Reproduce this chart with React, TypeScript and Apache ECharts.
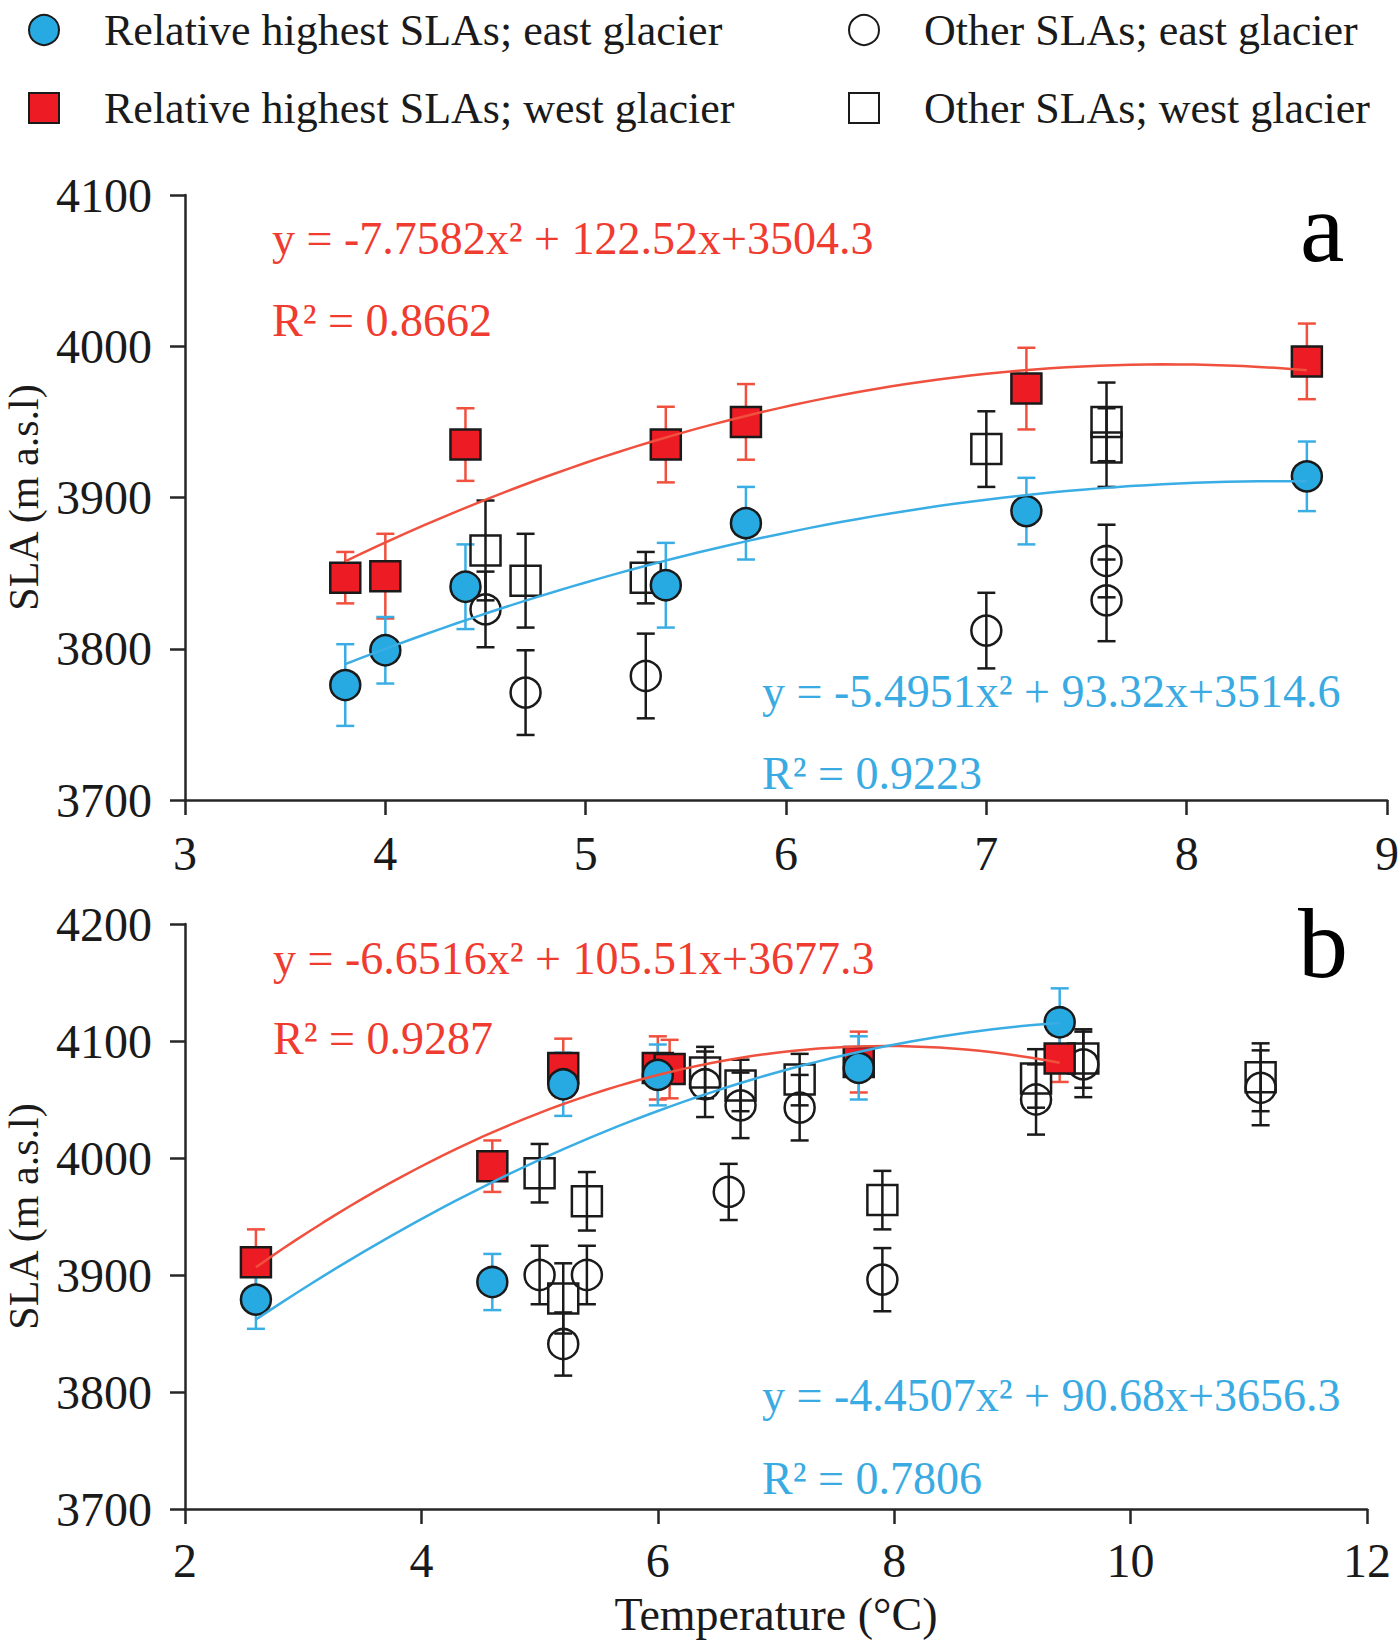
import React, { useEffect, useRef } from "react";
import * as echarts from "echarts";

// ---------- names ----------
const NAME_HE = "Relative highest SLAs; east glacier";
const NAME_HW = "Relative highest SLAs; west glacier";
const NAME_OE = "Other SLAs; east glacier";
const NAME_OW = "Other SLAs; west glacier";

// ---------- panel a data ----------
const aHighWestX = [3.8, 4.0, 4.4, 5.4, 5.8, 7.2, 8.6];
const aHighWestY = [3847, 3848, 3935, 3935, 3950, 3972, 3990];
const aHighWestE = [17, 28, 24, 25, 25, 27, 25];

const aHighEastX = [3.8, 4.0, 4.4, 5.4, 5.8, 7.2, 8.6];
const aHighEastY = [3776, 3799, 3841, 3842, 3883, 3891, 3914];
const aHighEastE = [27, 22, 28, 28, 24, 22, 23];

const aOtherWestX = [4.5, 4.7, 5.3, 7.0, 7.6, 7.6];
const aOtherWestY = [3865, 3845, 3847, 3932, 3950, 3933];
const aOtherWestE = [33, 31, 17, 25, 26, 26];

const aOtherEastX = [4.5, 4.7, 5.3, 7.0, 7.6, 7.6];
const aOtherEastY = [3826, 3771, 3782, 3812, 3858, 3832];
const aOtherEastE = [25, 28, 28, 25, 24, 27];

// ---------- panel b data ----------
const bHighWestX = [2.6, 4.6, 5.2, 6.0, 6.1, 7.7, 9.4];
const bHighWestY = [3911, 3993, 4077, 4077, 4076, 4082, 4085];
const bHighWestE = [28, 22, 25, 27, 25, 26, 20];

const bHighEastX = [2.6, 4.6, 5.2, 6.0, 7.7, 9.4];
const bHighEastY = [3879, 3894, 4063, 4071, 4077, 4116];
const bHighEastE = [25, 24, 27, 26, 27, 29];

const bOtherWestX = [5.0, 5.2, 5.4, 6.4, 6.7, 7.2, 7.9, 9.2, 9.6, 11.1];
const bOtherWestY = [3987, 3880, 3963, 4073, 4062, 4067, 3964, 4068, 4085, 4069];
const bOtherWestE = [25, 30, 25, 22, 22, 22, 25, 25, 25, 29];

const bOtherEastX = [5.0, 5.2, 5.4, 6.4, 6.6, 6.7, 7.2, 7.9, 9.2, 9.6, 11.1];
const bOtherEastY = [3900, 3841, 3900, 4063, 3971, 4045, 4043, 3896, 4050, 4080, 4060];
const bOtherEastE = [25, 27, 25, 28, 24, 28, 28, 27, 30, 28, 32];

// ---------- fitted trend lines (coefficients printed on the chart: a, b, c of ax²+bx+c) ----------
const aWestFit = [-7.7582, 122.52, 3504.3];
const aEastFit = [-5.4951, 93.32, 3514.6];
const bWestFit = [-6.6516, 105.51, 3677.3];
const bEastFit = [-4.4507, 90.68, 3656.3];
const aFitRange = [3.8, 8.6];
const bFitRange = [2.6, 9.4];

// ---------- annotation texts ----------
const aEqWest = "y = -7.7582x² + 122.52x+3504.3";
const aR2West = "R² = 0.8662";
const aEqEast = "y = -5.4951x² + 93.32x+3514.6";
const aR2East = "R² = 0.9223";
const bEqWest = "y = -6.6516x² + 105.51x+3677.3";
const bR2West = "R² = 0.9287";
const bEqEast = "y = -4.4507x² + 90.68x+3656.3";
const bR2East = "R² = 0.7806";
const panelLabels = ["a", "b"];

// ---------- axes ----------
const aXAxis = { min: 3, max: 9, interval: 1 };
const bXAxis = { min: 2, max: 12, interval: 2 };
const aYAxis = { min: 3700, max: 4100, interval: 100 };
const bYAxis = { min: 3700, max: 4200, interval: 100 };
const yTitle = "SLA (m a.s.l)";
const xTitle = "Temperature (°C)";

// ---------- styles ----------
const FONT = "'Liberation Serif', 'Times New Roman', serif";
const RED = "#ED1C24";
const BLUE = "#27AAE1";
const RED_LINE = "#F0503E";
const BLUE_LINE = "#3AAEE4";
const RED_TEXT = "#EF3B30";
const BLUE_TEXT = "#3AABE2";
const INK = "#1a1a1a";

function curve(coef: number[], range: number[]) {
  const pts: number[][] = [];
  const steps = 60;
  for (let i = 0; i <= steps; i++) {
    const x = range[0] + ((range[1] - range[0]) * i) / steps;
    pts.push([x, coef[0] * x * x + coef[1] * x + coef[2]]);
  }
  return pts;
}

function errSeries(xs: number[], ys: number[], es: number[], color: string, gi: number) {
  return {
    type: "custom",
    xAxisIndex: gi,
    yAxisIndex: gi,
    z: 1,
    silent: true,
    data: xs.map((x, i) => [x, ys[i] - es[i], ys[i] + es[i]]),
    encode: { x: 0, y: [1, 2] },
    renderItem: (_p: any, api: any) => {
      const x = api.value(0);
      const lo = api.coord([x, api.value(1)]);
      const hi = api.coord([x, api.value(2)]);
      const w = 9;
      const st = () => ({ stroke: color, lineWidth: 2.5 });
      return {
        type: "group",
        children: [
          { type: "line", shape: { x1: lo[0], y1: lo[1], x2: hi[0], y2: hi[1] }, style: st() },
          { type: "line", shape: { x1: hi[0] - w, y1: hi[1], x2: hi[0] + w, y2: hi[1] }, style: st() },
          { type: "line", shape: { x1: lo[0] - w, y1: lo[1], x2: lo[0] + w, y2: lo[1] }, style: st() },
        ],
      };
    },
  };
}

function scatter(name: string, xs: number[], ys: number[], symbol: string, fill: string, gi: number, z: number) {
  return {
    type: "scatter",
    name,
    xAxisIndex: gi,
    yAxisIndex: gi,
    symbol,
    symbolSize: 30,
    z,
    silent: true,
    itemStyle: { color: fill, borderColor: INK, borderWidth: 2.5, opacity: 1 },
    data: xs.map((x, i) => [x, ys[i]]),
  };
}

function trend(coef: number[], range: number[], color: string, gi: number) {
  return {
    type: "line",
    xAxisIndex: gi,
    yAxisIndex: gi,
    z: 4,
    silent: true,
    showSymbol: false,
    symbol: "none",
    lineStyle: { color, width: 2.5 },
    data: curve(coef, range),
  };
}

const axisLineStyle = { color: "#262626", width: 2.5 };

function xAxisOpt(ax: any, gi: number, margin: number, withName: boolean) {
  return {
    type: "value",
    gridIndex: gi,
    ...ax,
    axisLine: { show: true, onZero: false, lineStyle: axisLineStyle },
    axisTick: { show: true, length: 15, lineStyle: axisLineStyle },
    axisLabel: { fontFamily: FONT, fontSize: 48, color: INK, margin, formatter: (v: number) => String(v) },
    splitLine: { show: false },
    ...(withName
      ? {
          name: xTitle,
          nameLocation: "middle",
          nameGap: 82,
          nameTextStyle: { fontFamily: FONT, fontSize: 46, color: INK },
        }
      : {}),
  };
}

function yAxisOpt(ax: any, gi: number) {
  return {
    type: "value",
    gridIndex: gi,
    ...ax,
    name: yTitle,
    nameLocation: "middle",
    nameGap: 140,
    nameTextStyle: { fontFamily: FONT, fontSize: 42, color: INK },
    axisLine: { show: true, onZero: false, lineStyle: axisLineStyle },
    axisTick: { show: true, length: 15, lineStyle: axisLineStyle },
    axisLabel: { fontFamily: FONT, fontSize: 48, color: INK, margin: 33, formatter: (v: number) => String(v) },
    splitLine: { show: false },
  };
}

function txt(text: string, x: number, y: number, size: number, color: string) {
  return {
    type: "text",
    x,
    y,
    silent: true,
    style: {
      text,
      fill: color,
      font: `${size}px ${FONT}`,
      textAlign: "left",
      textVerticalAlign: "middle",
    },
  };
}

export default function App() {
  const ref = useRef<HTMLDivElement>(null);
  useEffect(() => {
    if (!ref.current) return;
    const chart = echarts.init(ref.current, null, { renderer: "svg" });
    const legendCommon = {
      orient: "vertical",
      top: 3,
      itemWidth: 30,
      itemHeight: 30,
      itemGap: 34,
      selectedMode: false,
      textStyle: { fontFamily: FONT, fontSize: 44, color: INK, padding: [0, 0, 0, 40] },
    };
    chart.setOption({
      animation: false,
      backgroundColor: "#ffffff",
      legend: [
        { ...legendCommon, left: 23, data: [NAME_HE, NAME_HW] },
        { ...legendCommon, left: 843, data: [NAME_OE, NAME_OW] },
      ],
      grid: [
        { left: 185, top: 195, width: 1202, height: 605, outerBoundsMode: "none", containLabel: false },
        { left: 185, top: 924, width: 1182, height: 585, outerBoundsMode: "none", containLabel: false },
      ],
      xAxis: [xAxisOpt(aXAxis, 0, 29, false), xAxisOpt(bXAxis, 1, 27, true)],
      yAxis: [yAxisOpt(aYAxis, 0), yAxisOpt(bYAxis, 1)],
      series: [
        // panel a
        errSeries(aOtherWestX, aOtherWestY, aOtherWestE, INK, 0),
        errSeries(aOtherEastX, aOtherEastY, aOtherEastE, INK, 0),
        errSeries(aHighWestX, aHighWestY, aHighWestE, RED_LINE, 0),
        errSeries(aHighEastX, aHighEastY, aHighEastE, BLUE_LINE, 0),
        scatter(NAME_OW, aOtherWestX, aOtherWestY, "rect", "rgba(255,255,255,0)", 0, 2),
        scatter(NAME_OE, aOtherEastX, aOtherEastY, "circle", "rgba(255,255,255,0)", 0, 2),
        scatter(NAME_HW, aHighWestX, aHighWestY, "rect", RED, 0, 3),
        scatter(NAME_HE, aHighEastX, aHighEastY, "circle", BLUE, 0, 3),
        trend(aWestFit, aFitRange, RED_LINE, 0),
        trend(aEastFit, aFitRange, BLUE_LINE, 0),
        // panel b
        errSeries(bOtherWestX, bOtherWestY, bOtherWestE, INK, 1),
        errSeries(bOtherEastX, bOtherEastY, bOtherEastE, INK, 1),
        errSeries(bHighWestX, bHighWestY, bHighWestE, RED_LINE, 1),
        errSeries(bHighEastX, bHighEastY, bHighEastE, BLUE_LINE, 1),
        scatter(NAME_OW, bOtherWestX, bOtherWestY, "rect", "rgba(255,255,255,0)", 1, 2),
        scatter(NAME_OE, bOtherEastX, bOtherEastY, "circle", "rgba(255,255,255,0)", 1, 2),
        scatter(NAME_HW, bHighWestX, bHighWestY, "rect", RED, 1, 3),
        scatter(NAME_HE, bHighEastX, bHighEastY, "circle", BLUE, 1, 3),
        trend(bWestFit, bFitRange, RED_LINE, 1),
        trend(bEastFit, bFitRange, BLUE_LINE, 1),
      ],
      graphic: [
        txt(aEqWest, 272, 238, 46, RED_TEXT),
        txt(aR2West, 272, 320, 46, RED_TEXT),
        txt(aEqEast, 762, 691, 46, BLUE_TEXT),
        txt(aR2East, 762, 773, 46, BLUE_TEXT),
        txt(bEqWest, 273, 958, 46, RED_TEXT),
        txt(bR2West, 273, 1038, 46, RED_TEXT),
        txt(bEqEast, 762, 1395, 46, BLUE_TEXT),
        txt(bR2East, 762, 1478, 46, BLUE_TEXT),
        txt(panelLabels[0], 1300, 227, 100, "#000"),
        txt(panelLabels[1], 1298, 943, 100, "#000"),
      ],
    });
    return () => chart.dispose();
  }, []);
  return (
    <div
      ref={ref}
      style={{ position: "absolute", left: 0, top: 0, width: 1400, height: 1646, background: "#fff" }}
    />
  );
}
